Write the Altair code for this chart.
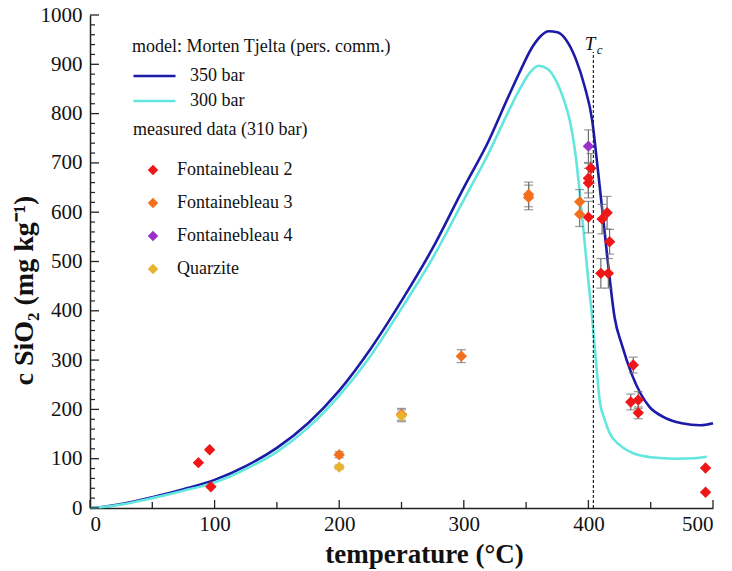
import altair as alt
import pandas as pd

# ---------------- data ----------------
# model curves (Morten Tjelta, pers. comm.)
t350 = [0, 10, 25, 50, 75, 100, 125, 150, 175, 200, 225, 250, 275, 300, 320, 335, 345,
        355, 362, 368, 375, 382, 390, 397, 403, 407, 412, 416, 421, 427, 435, 449, 460,
        475, 490, 500]
c350 = [0, 2, 8, 22, 38, 57, 85, 122, 172, 238, 322, 420, 527, 650, 745, 830, 885,
        935, 958, 967, 965, 950, 910, 855, 787, 700, 584, 490, 387, 330, 270, 205, 185,
        172, 168, 172]

t300 = [0, 10, 25, 50, 75, 100, 125, 150, 175, 200, 225, 250, 275, 300, 320, 335, 345,
        353, 360, 367, 375, 380, 385, 390, 395, 400, 403, 406, 409, 413, 417, 425, 436,
        450, 470, 485, 495]
c300 = [0, 2, 7, 20, 35, 52, 79, 114, 163, 228, 308, 405, 507, 625, 720, 800, 850,
        883, 897, 891, 862, 830, 787, 710, 590, 460, 387, 300, 219, 180, 152, 128, 111,
        103, 100, 101, 104]

# measured data (310 bar)
f2_t = [87, 96, 97, 400, 400, 400, 402, 411, 415, 417, 410, 416, 436, 434, 440, 440, 494, 494]
f2_c = [92, 118, 43, 590, 659, 669, 689, 586, 599, 540, 476, 476, 290, 215, 219, 193, 81, 32]
f2_e = [0, 0, 0, 32, 30, 30, 30, 30, 33, 25, 30, 30, 16, 16, 17, 12, 0, 0]

f3_t = [200, 250, 298, 352, 352, 393, 393]
f3_c = [108, 190, 308, 630, 636, 596, 621]
f3_e = [6, 12, 13, 25, 25, 25, 25]

f4_t = [400]
f4_c = [734]
f4_e = [33]

qz_t = [200, 250]
qz_c = [83, 187]
qz_e = [4, 12]

tc_temp = 404
tc_top = 925

x_major = [0, 100, 200, 300, 400, 500]
x_minor = [50, 150, 250, 350, 450]
y_major = list(range(0, 1001, 100))
y_minor = [v for v in range(0, 1001, 20) if v % 100 != 0]

# ---------------- tables ----------------
curves = pd.concat([
    pd.DataFrame({"t": t350, "c": c350, "series": "350 bar"}),
    pd.DataFrame({"t": t300, "c": c300, "series": "300 bar"}),
], ignore_index=True)

pts = pd.concat([
    pd.DataFrame({"t": f3_t, "c": f3_c, "e": f3_e, "set": "Fontainebleau 3"}),
    pd.DataFrame({"t": qz_t, "c": qz_c, "e": qz_e, "set": "Quarzite"}),
    pd.DataFrame({"t": f2_t, "c": f2_c, "e": f2_e, "set": "Fontainebleau 2"}),
    pd.DataFrame({"t": f4_t, "c": f4_c, "e": f4_e, "set": "Fontainebleau 4"}),
], ignore_index=True)
pts["lo"] = pts["c"] - pts["e"]
pts["hi"] = pts["c"] + pts["e"]
bars = pts[pts["e"] > 0].reset_index(drop=True)

FONT = "Times New Roman, Liberation Serif, serif"
W, H = 623, 493

xs = alt.Scale(domain=[0, 500], nice=False)
ys = alt.Scale(domain=[0, 1000], nice=False)

base_x = alt.X("t:Q", scale=xs, axis=alt.Axis(
    values=x_major, format="d", title="temperature  (°C)", ticks=False, grid=False,
    labelFont=FONT, labelFontSize=21, labelColor="#111", labelPadding=5,
    domainColor="#222", domainWidth=1.5,
    titleFont=FONT, titleFontSize=27, titleFontWeight="bold", titleColor="#111",
    titleX=334, titleY=46, titleBaseline="middle", titleAlign="center"))
base_y = alt.Y("c:Q", scale=ys, axis=alt.Axis(
    values=y_major, format="d", title="c SiO₂  (mg kg⁻¹)", ticks=False, grid=False,
    labelFont=FONT, labelFontSize=21, labelColor="#111", labelPadding=8,
    domainColor="#222", domainWidth=1.5,
    titleFont=FONT, titleFontSize=28, titleFontWeight="bold", titleColor="#111",
    titleX=-66, titleY=275, titleAngle=270, titleBaseline="middle", titleAlign="center"))

lines = alt.Chart(curves).mark_line(strokeWidth=2.6, interpolate="monotone").encode(
    x=base_x, y=base_y,
    stroke=alt.Stroke("series:N",
        scale=alt.Scale(domain=["350 bar", "300 bar"], range=["#1b1ba8", "#62e6de"]),
        legend=alt.Legend(
            title="model: Morten Tjelta (pers. comm.)", orient="none",
            legendX=42, legendY=23, padding=0, titleLimit=500, labelLimit=300,
            symbolType="M-1,0L3,0", symbolSize=441, symbolStrokeWidth=2.6,
            labelOffset=34, labelFont=FONT, labelFontSize=18, labelColor="#111",
            titleFont=FONT, titleFontSize=18, titleFontWeight="normal", titleColor="#111",
            titlePadding=8, rowPadding=4)),
)

vline = alt.Chart(pd.DataFrame({"t": [tc_temp], "bot": [0], "top": [tc_top]})).mark_rule(
    color="#222", strokeWidth=1.2, strokeDash=[3, 2]).encode(
    x=alt.X("t:Q", scale=xs), y=alt.Y("bot:Q", scale=ys), y2="top:Q")

tlab = alt.Chart(pd.DataFrame({"t": [401.3], "c": [929]})).mark_text(
    text="T", font=FONT, fontSize=19, fontStyle="italic", baseline="alphabetic",
    color="#111").encode(x=alt.X("t:Q", scale=xs), y=alt.Y("c:Q", scale=ys))
clab = alt.Chart(pd.DataFrame({"t": [409], "c": [921]})).mark_text(
    text="c", font=FONT, fontSize=13, fontStyle="italic", baseline="alphabetic",
    color="#111").encode(x=alt.X("t:Q", scale=xs), y=alt.Y("c:Q", scale=ys))

err_rule = alt.Chart(bars).mark_rule(color="#6e6e6e", strokeWidth=1.2).encode(
    x=alt.X("t:Q", scale=xs), y=alt.Y("lo:Q", scale=ys), y2="hi:Q")
cap_lo = alt.Chart(bars).mark_tick(color="#6e6e6e", orient="horizontal", size=9,
                                    thickness=1.2).encode(
    x=alt.X("t:Q", scale=xs), y=alt.Y("lo:Q", scale=ys))
cap_hi = alt.Chart(bars).mark_tick(color="#6e6e6e", orient="horizontal", size=9,
                                    thickness=1.2).encode(
    x=alt.X("t:Q", scale=xs), y=alt.Y("hi:Q", scale=ys))

points = alt.Chart(pts).mark_point(shape="diamond", filled=True, size=130,
                                   opacity=1, strokeWidth=0).encode(
    x=alt.X("t:Q", scale=xs), y=alt.Y("c:Q", scale=ys),
    fill=alt.Fill("set:N",
        scale=alt.Scale(domain=["Fontainebleau 2", "Fontainebleau 3", "Fontainebleau 4", "Quarzite"],
                        range=["#ee1616", "#f2701c", "#9b2fc9", "#e8b42e"]),
        legend=alt.Legend(
            title="measured data (310 bar)", orient="none",
            legendX=43, legendY=106, padding=0, titleLimit=500, labelLimit=300,
            symbolType="diamond", symbolSize=110, symbolStrokeWidth=0,
            symbolOffset=11, labelOffset=15,
            labelFont=FONT, labelFontSize=18, labelColor="#111",
            titleFont=FONT, titleFontSize=18, titleFontWeight="normal", titleColor="#111",
            titlePadding=22, rowPadding=15)),
)

xt_major = alt.Chart(pd.DataFrame({"v": x_major})).mark_rule(color="#222", strokeWidth=1.3).encode(
    x=alt.X("v:Q", scale=xs), y=alt.value(H), y2=alt.value(H - 8))
xt_minor = alt.Chart(pd.DataFrame({"v": x_minor})).mark_rule(color="#222", strokeWidth=1.3).encode(
    x=alt.X("v:Q", scale=xs), y=alt.value(H), y2=alt.value(H - 6))
yt_major = alt.Chart(pd.DataFrame({"v": y_major})).mark_rule(color="#222", strokeWidth=1.3).encode(
    y=alt.Y("v:Q", scale=ys), x=alt.value(0), x2=alt.value(9))
yt_minor = alt.Chart(pd.DataFrame({"v": y_minor})).mark_rule(color="#222", strokeWidth=1.2).encode(
    y=alt.Y("v:Q", scale=ys), x=alt.value(0), x2=alt.value(5))

chart = alt.layer(
    lines, xt_major, xt_minor, yt_major, yt_minor, vline, tlab, clab,
    err_rule, cap_lo, cap_hi, points,
).properties(
    width=W, height=H,
    padding={"left": 90, "top": 15, "right": 19, "bottom": 63},
    autosize=alt.AutoSizeParams(type="none"),
    background="white",
).configure(font=FONT).configure_view(stroke=None)

chart.save("out.html", embed_options={"renderer": "svg", "actions": False})
